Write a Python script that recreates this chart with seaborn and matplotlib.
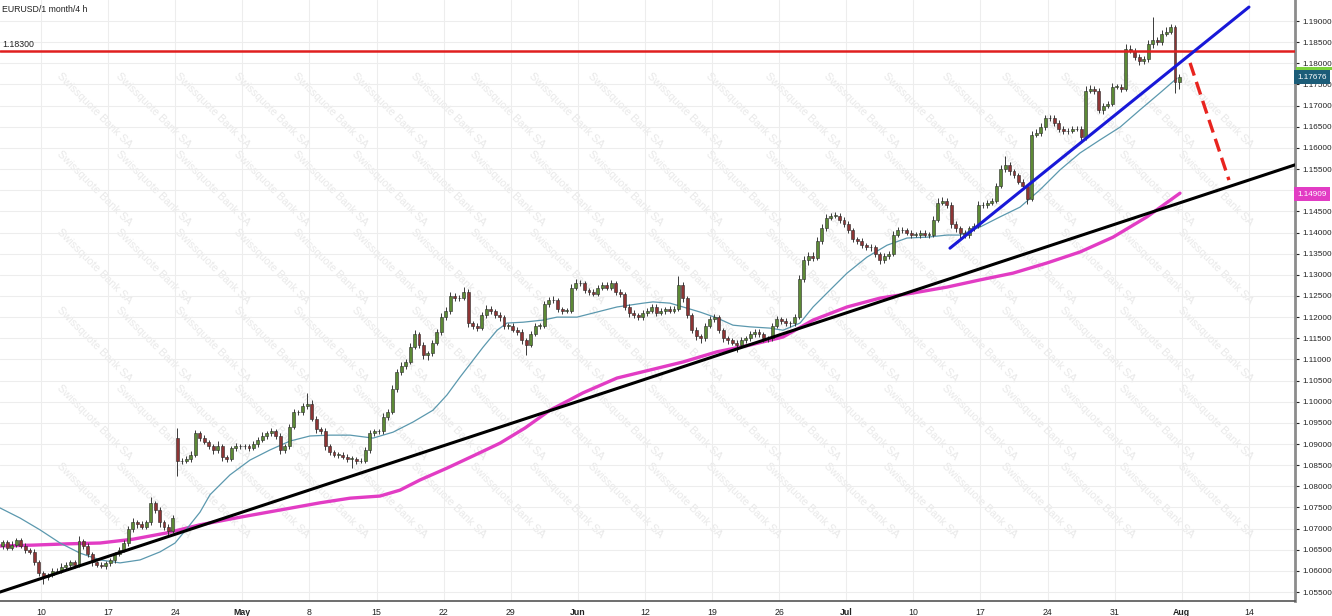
import numpy as np
import pandas as pd
import matplotlib
matplotlib.use("Agg")
import matplotlib.pyplot as plt
import seaborn as sns
from matplotlib.ticker import FormatStrFormatter
from matplotlib.transforms import blended_transform_factory
from matplotlib.patches import Rectangle

# ---------------- data (EURUSD, 8h candles, trading-day axis; day 0 = Mon 10 Apr) ----------------
start_day = -3
candles_per_day = 3
first_open = 1.0660
gap_opens = {39: 1.0915}          # weekend gap (Mon 24 Apr)

closes = [
    1.0668, 1.0655, 1.0662, 1.0672, 1.0660, 1.0650, 1.0645, 1.0620, 1.0595,
    1.0585, 1.0590, 1.0600, 1.0600, 1.0610, 1.0615, 1.0620, 1.0615, 1.0670, 1.0660, 1.0640, 1.0620, 1.0615, 1.0612, 1.0618,
    1.0625, 1.0640, 1.0650, 1.0665, 1.0700, 1.0715, 1.0710, 1.0705, 1.0715, 1.0760, 1.0745, 1.0715, 1.0705, 1.0695, 1.0725,
    1.0860, 1.0860, 1.0865, 1.0875, 1.0925, 1.0915, 1.0905, 1.0895, 1.0885, 1.0895, 1.0870, 1.0865, 1.0890, 1.0895, 1.0895,
    1.0895, 1.0890, 1.0900, 1.0910, 1.0920, 1.0925, 1.0930, 1.0920, 1.0885, 1.0895, 1.0940, 1.0975, 1.0975, 1.0990, 1.0995,
    1.0960, 1.0935, 1.0930, 1.0895, 1.0880, 1.0875, 1.0875, 1.0870, 1.0865, 1.0865, 1.0860, 1.0860, 1.0885, 1.0925, 1.0930,
    1.0930, 1.0965, 1.0975, 1.1030, 1.1070, 1.1085, 1.1095, 1.1130, 1.1160, 1.1135, 1.1110, 1.1115, 1.1140, 1.1165, 1.1200,
    1.1215, 1.1250, 1.1245, 1.1245, 1.1260, 1.1185, 1.1180, 1.1175, 1.1205, 1.1220, 1.1215, 1.1205, 1.1200, 1.1180, 1.1180,
    1.1170, 1.1165, 1.1145, 1.1135, 1.1160, 1.1180, 1.1180, 1.1230, 1.1240, 1.1240, 1.1220, 1.1215, 1.1215, 1.1270, 1.1280,
    1.1280, 1.1265, 1.1260, 1.1255, 1.1270, 1.1275, 1.1270, 1.1280, 1.1260, 1.1255, 1.1225, 1.1210, 1.1205, 1.1200, 1.1210,
    1.1215, 1.1225, 1.1210, 1.1215, 1.1220, 1.1215, 1.1220, 1.1275, 1.1245, 1.1205, 1.1170, 1.1155, 1.1150, 1.1180, 1.1195,
    1.1200, 1.1170, 1.1150, 1.1145, 1.1140, 1.1135, 1.1145, 1.1150, 1.1160, 1.1165, 1.1160, 1.1150, 1.1150, 1.1180, 1.1195,
    1.1190, 1.1185, 1.1185, 1.1200, 1.1290, 1.1335, 1.1345, 1.1340, 1.1380, 1.1410, 1.1435, 1.1440, 1.1440, 1.1430, 1.1420,
    1.1405, 1.1385, 1.1380, 1.1370, 1.1365, 1.1365, 1.1350, 1.1335, 1.1345, 1.1350, 1.1395, 1.1405, 1.1405, 1.1400, 1.1395,
    1.1395, 1.1400, 1.1395, 1.1395, 1.1430, 1.1470, 1.1475, 1.1465, 1.1420, 1.1410, 1.1400, 1.1395, 1.1410, 1.1415, 1.1465,
    1.1465, 1.1470, 1.1475, 1.1510, 1.1550, 1.1560, 1.1545, 1.1535, 1.1520, 1.1510, 1.1480, 1.1630, 1.1635, 1.1650, 1.1670,
    1.1670, 1.1660, 1.1645, 1.1640, 1.1640, 1.1645, 1.1645, 1.1625, 1.1735, 1.1740, 1.1735, 1.1690, 1.1700, 1.1705, 1.1745,
    1.1745, 1.1740, 1.1835, 1.1830, 1.1815, 1.1805, 1.1810, 1.1845, 1.1855, 1.1850, 1.1870, 1.1875, 1.1885, 1.1755, 1.1768,
]

wick_up_pips = [
    6, 5, 8, 7, 6, 5, 4, 6, 5,
    5, 6, 7, 6, 8, 5, 5, 6, 12, 6, 7, 5, 4, 6, 5,
    6, 5, 7, 8, 6, 9, 5, 7, 6, 15, 6, 5, 6, 5, 8,
    22, 6, 7, 8, 9, 6, 7, 5, 6, 12, 6, 5, 6, 7, 5,
    5, 6, 7, 6, 8, 5, 7, 6, 5, 6, 8, 7, 6, 8, 25,
    8, 6, 5, 7, 6, 5, 5, 6, 7, 6, 5, 6, 7, 8, 6,
    6, 8, 7, 9, 8, 10, 7, 8, 9, 6, 7, 5, 7, 8, 9,
    9, 10, 8, 7, 12, 6, 5, 6, 8, 8, 6, 5, 6, 5, 7,
    5, 6, 7, 6, 8, 7, 6, 8, 7, 9, 6, 5, 6, 8, 9,
    8, 6, 5, 7, 6, 8, 8, 7, 6, 6, 5, 7, 6, 5, 7,
    7, 6, 5, 6, 5, 7, 6, 22, 8, 6, 5, 7, 5, 7, 8,
    8, 6, 5, 6, 5, 6, 7, 6, 8, 6, 7, 5, 6, 7, 8,
    6, 7, 5, 8, 10, 9, 8, 10, 9, 10, 8, 7, 9, 6, 7,
    8, 6, 5, 6, 5, 7, 6, 5, 7, 6, 8, 9, 7, 6, 5,
    6, 5, 7, 6, 8, 12, 8, 7, 6, 7, 6, 5, 6, 7, 10,
    6, 8, 7, 8, 10, 20, 7, 6, 5, 6, 5, 10, 9, 8, 7,
    9, 7, 6, 6, 7, 8, 7, 6, 12, 8, 7, 6, 7, 6, 9,
    7, 6, 10, 9, 7, 6, 8, 10, 55, 7, 9, 12, 8, 6, 7,
]

wick_dn_pips = [
    7, 6, 5, 6, 5, 8, 6, 7, 8,
    15, 6, 5, 6, 5, 7, 6, 8, 5, 7, 6, 8, 6, 5, 7,
    6, 7, 5, 5, 6, 7, 8, 6, 5, 6, 7, 10, 8, 9, 6,
    35, 8, 6, 7, 6, 8, 6, 7, 8, 6, 10, 7, 5, 6, 7,
    6, 7, 5, 6, 5, 7, 6, 7, 9, 7, 6, 5, 6, 7, 8,
    6, 8, 7, 9, 7, 6, 7, 6, 8, 22, 8, 6, 6, 7, 5,
    7, 6, 8, 5, 7, 6, 8, 6, 5, 7, 10, 12, 6, 5, 7,
    6, 7, 8, 6, 5, 8, 9, 7, 6, 6, 7, 8, 8, 7, 9,
    6, 7, 9, 25, 6, 5, 7, 6, 5, 6, 8, 7, 6, 5, 7,
    6, 8, 7, 6, 5, 7, 6, 5, 8, 7, 9, 10, 8, 7, 6,
    7, 6, 8, 6, 7, 5, 6, 5, 9, 7, 8, 9, 10, 6, 5,
    6, 7, 8, 8, 7, 18, 6, 5, 7, 6, 7, 8, 9, 6, 5,
    7, 6, 8, 6, 5, 6, 12, 7, 6, 6, 7, 5, 6, 7, 8,
    6, 7, 8, 7, 6, 8, 8, 9, 6, 7, 5, 6, 6, 7, 8,
    6, 7, 5, 7, 6, 5, 6, 7, 9, 9, 12, 8, 7, 6, 5,
    6, 7, 5, 6, 5, 7, 8, 7, 6, 7, 12, 6, 5, 6, 7,
    6, 7, 8, 7, 6, 5, 6, 10, 7, 6, 7, 8, 9, 6, 5,
    6, 7, 5, 6, 8, 9, 7, 6, 8, 6, 7, 5, 6, 25, 15,
]

# fast moving average (thin blue)
ma_fast_day = [-3.06, -1.56, -0.07, 1.42, 2.91, 4.40, 5.89, 7.38, 8.87, 9.99, 11.10, 11.85, 12.59,
               14.08, 15.57, 17.06, 18.55, 20.04, 21.54, 23.03, 24.74, 26.23, 27.72, 29.21, 30.25,
               31.22, 32.94, 33.98, 34.72, 35.92, 37.41, 38.45, 39.94, 41.43, 42.92, 44.86, 45.60,
               46.87, 47.84, 49.11, 50.37, 51.56, 52.83, 54.32, 55.29, 56.56, 57.53, 58.79, 60.06,
               61.55, 63.04, 64.53, 66.02, 67.51, 68.48, 69.97, 71.46, 72.95, 74.44, 75.93, 77.42,
               78.91, 80.40, 81.89, 83.38, 84.65]
ma_fast_val = [1.0749, 1.0725, 1.0697, 1.0666, 1.0642, 1.0626, 1.0619, 1.0626, 1.0645, 1.0666, 1.0709,
               1.0739, 1.0780, 1.0827, 1.0862, 1.0886, 1.0907, 1.0919, 1.0921, 1.0921, 1.0914, 1.0928,
               1.0952, 1.0980, 1.1016, 1.1058, 1.1129, 1.1169, 1.1186, 1.1188, 1.1193, 1.1200, 1.1200,
               1.1212, 1.1224, 1.1233, 1.1236, 1.1233, 1.1224, 1.1212, 1.1198, 1.1181, 1.1177, 1.1174,
               1.1169, 1.1186, 1.1224, 1.1264, 1.1304, 1.1342, 1.1370, 1.1387, 1.1389, 1.1394, 1.1394,
               1.1413, 1.1437, 1.1460, 1.1501, 1.1548, 1.1588, 1.1619, 1.1649, 1.1690, 1.1730, 1.1765]

# slow moving average (thick magenta)
ma_slow_day = [-3.06, -0.60, 1.94, 4.40, 6.86, 9.39, 11.85, 14.83, 17.81, 20.79, 23.03, 25.26, 26.75,
               28.24, 30.25, 32.34, 34.20, 36.07, 37.93, 40.39, 42.92, 45.38, 47.84, 50.37, 52.83,
               55.29, 57.53, 60.06, 62.52, 64.98, 67.51, 69.97, 72.43, 74.96, 77.42, 79.88, 82.41, 84.87]
ma_slow_val = [1.0659, 1.0661, 1.0664, 1.0666, 1.0675, 1.0690, 1.0709, 1.0727, 1.0744, 1.0761, 1.0772,
               1.0777, 1.0791, 1.0815, 1.0843, 1.0874, 1.0902, 1.0938, 1.0980, 1.1021, 1.1056, 1.1075,
               1.1094, 1.1118, 1.1134, 1.1153, 1.1193, 1.1224, 1.1245, 1.1257, 1.1271, 1.1288, 1.1304,
               1.1328, 1.1354, 1.1389, 1.1437, 1.1493]

support_day, support_val = [-3.06, 93.44], [1.0550, 1.1560]
channel_day, channel_val = [67.73, 90.01], [1.1363, 1.1933]
target_day, target_val = [85.62, 88.52], [1.1801, 1.1524]
resistance_level = 1.1830
last_price = 1.17676
slow_ma_last = 1.14909

week_ticks = list(range(0, 91, 5))
week_labels = ["10", "17", "24", "May", "8", "15", "22", "29", "Jun", "12", "19", "26",
               "Jul", "10", "17", "24", "31", "Aug", "14"]
month_labels = {"May", "Jun", "Jul", "Aug"}
price_ticks = [round(1.055 + 0.005 * k, 3) for k in range(28)]

# ---------------- build OHLC ----------------
c = np.array(closes)
n = len(c)
o = np.empty(n)
o[0] = first_open
o[1:] = c[:-1]
for k, v in gap_opens.items():
    o[k] = v
hi = np.maximum(o, c) + np.array(wick_up_pips) * 1e-4
lo = np.minimum(o, c) - np.array(wick_dn_pips) * 1e-4
xpos = start_day + (np.arange(n) + 0.5) / candles_per_day
up = c >= o

# ---------------- figure ----------------
sns.set_style("white")
plt.rcParams["font.family"] = ["Liberation Sans", "DejaVu Sans"]
FS = 5.9
W, H = 1332, 616
fig = plt.figure(figsize=(W / 100, H / 100), dpi=100)
ax_right, ax_bottom = 1295, 601
ax = fig.add_axes([0, (H - ax_bottom) / H, ax_right / W, ax_bottom / H])
ax.set_facecolor("white")
ax.set_xlim(-3.055, 93.44)
ax.set_ylim(1.05289, 1.19497)

ax.set_xticks(week_ticks)
ax.set_xticklabels(week_labels)
ax.set_yticks(price_ticks)
ax.yaxis.set_major_formatter(FormatStrFormatter("%.5f"))
ax.yaxis.tick_right()
ax.grid(True, color="#ededed", lw=0.8, zorder=0)
ax.set_axisbelow(True)
for lab in ax.get_xticklabels():
    if lab.get_text() in month_labels:
        lab.set_fontweight("bold")
ax.tick_params(axis="x", labelsize=FS + 0.4, colors="#222222", length=3, width=0.8, pad=2)
ax.tick_params(axis="y", labelsize=FS, colors="#222222", length=3, width=0.8, pad=2)
# the 1.15000 label sits under the magenta price tag
for t, lab in zip(price_ticks, ax.get_yticklabels()):
    if abs(t - 1.150) < 1e-9:
        lab.set_visible(False)
for s in ("left", "top"):
    ax.spines[s].set_visible(False)
ax.spines["right"].set_color("#8c8c8c")
ax.spines["right"].set_linewidth(2)
ax.spines["bottom"].set_color("#555555")
ax.spines["bottom"].set_linewidth(1.2)

# watermark lattice (only complete stamps)
for xc in np.arange(35, 1295, 59):
    for yc in np.arange(32, 601, 78):
        if xc - 38 < 0 or xc + 38 > 1295 or yc - 38 < 0 or yc + 38 > 601:
            continue
        ax.text(xc / 1295, 1 - yc / 601, "Swissquote Bank SA", transform=ax.transAxes,
                rotation=-45, ha="center", va="center", fontsize=7.8, color="#e9e9e9",
                zorder=0.5)

# moving averages
sns.lineplot(x=ma_slow_day, y=ma_slow_val, ax=ax, color="#e23cc4", lw=2.4, estimator=None, sort=False, zorder=3)
sns.lineplot(x=ma_fast_day, y=ma_fast_val, ax=ax, color="#5b98ae", lw=0.9, estimator=None, sort=False, zorder=3)

# candles
bw = 0.22
body_h = np.maximum(np.abs(c - o), 0.00008)
ax.vlines(xpos, lo, hi, color="#3a3a3a", lw=0.7, zorder=4)
ax.bar(xpos[up], body_h[up], bottom=np.minimum(o, c)[up], width=bw, color="#5c8a35",
       edgecolor="#2b2b2b", linewidth=0.4, zorder=5)
ax.bar(xpos[~up], body_h[~up], bottom=np.minimum(o, c)[~up], width=bw, color="#8e3434",
       edgecolor="#2b2b2b", linewidth=0.4, zorder=5)

# trend lines and levels
ax.axhline(resistance_level, color="#e01f1f", lw=1.8, zorder=6)
sns.lineplot(x=support_day, y=support_val, ax=ax, color="black", lw=2.2, estimator=None, sort=False, zorder=6)
sns.lineplot(x=channel_day, y=channel_val, ax=ax, color="#1818d8", lw=2.2, estimator=None, sort=False, zorder=6)
sns.lineplot(x=target_day, y=target_val, ax=ax, color="#e8241f", lw=2.4, estimator=None, sort=False, zorder=6)
ax.lines[-1].set_dashes([4, 2])

# texts
ax.text(2 / 1295, 1 - 9 / 601, "EURUSD/1 month/4 h", transform=ax.transAxes, fontsize=FS + 0.4,
        color="#222222", ha="left", va="center")
tr = blended_transform_factory(ax.transAxes, ax.transData)
ax.text(2 / 1295, resistance_level + 0.0004, "1.18300", transform=tr,
        fontsize=FS + 0.4, color="#222222", ha="left", va="bottom")

# price tags on the right scale
fig.patches.append(Rectangle((1296 / W, 1 - 70 / H), 36 / W, 3 / H, transform=fig.transFigure,
                             facecolor="#7cd23c", edgecolor="none", zorder=7))
ax.text(1.0016, last_price, "1.17676", transform=tr, fontsize=FS, color="white",
        ha="left", va="center", clip_on=False, zorder=8,
        bbox=dict(boxstyle="square,pad=0.38", fc="#1c5c78", ec="none"))
ax.text(1.0016, slow_ma_last, "1.14909", transform=tr, fontsize=FS, color="white",
        ha="left", va="center", clip_on=False, zorder=8,
        bbox=dict(boxstyle="square,pad=0.38", fc="#e23cc4", ec="none"))

fig.savefig("out.png", dpi=100)
